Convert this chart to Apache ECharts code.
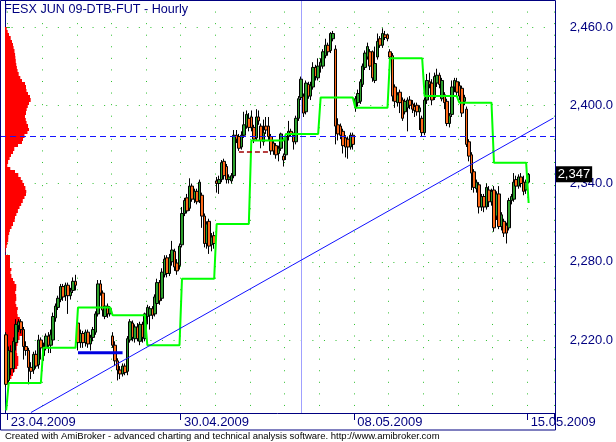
<!DOCTYPE html>
<html><head><meta charset="utf-8">
<script src="https://cdn.jsdelivr.net/npm/echarts@6/dist/echarts.min.js"></script>
<style>html,body{margin:0;padding:0;background:#fff}#c{width:616px;height:442px}</style>
</head><body><div id="c"></div>
<script>
const hours = ['08:00','09:00','10:00','11:00','12:00','13:00','14:00','15:00','16:00','17:00','18:00','19:00','20:00','21:00'];
const sessionDates = ['22.04.2009','23.04.2009','24.04.2009','27.04.2009','28.04.2009','29.04.2009','30.04.2009',
  '04.05.2009','05.05.2009','06.05.2009','07.05.2009','08.05.2009','11.05.2009','12.05.2009','13.05.2009','14.05.2009','15.05.2009'];
const labelDates = ['23.04.2009','30.04.2009','08.05.2009','15.05.2009'];

// hourly bars: [open, close, low, high]
const s0422 = [[2224,2186,2184,2226]];
const s0423 = [[2189,2212,2186,2215],[2211,2198,2193,2216],[2198,2219,2195,2222],[2218,2232,2212,2236],[2231,2234,2226,2236],[2234,2228,2225,2236],[2228,2215,2205,2230],[2215,2212,2208,2219],[2212,2199,2186,2214],[2199,2196,2190,2203],[2197,2209,2194,2211],[2209,2200,2198,2212],[2201,2220,2198,2224],[2220,2214,2205,2222]];
const s0424 = [[2208,2215,2204,2218],[2214,2223,2212,2225],[2223,2216,2210,2226],[2216,2224,2210,2228],[2220,2238,2218,2241],[2237,2246,2234,2248],[2245,2252,2243,2254],[2251,2261,2249,2263],[2261,2253,2250,2263],[2254,2262,2250,2264],[2262,2254,2240,2264],[2254,2257,2251,2260],[2258,2265,2256,2268],[2265,2262,2258,2270]];
const s0427 = [[2233,2218,2212,2236],[2218,2225,2214,2228],[2225,2218,2214,2227],[2218,2226,2215,2228],[2226,2217,2214,2228],[2217,2222,2212,2224],[2222,2228,2219,2230],[2226,2240,2224,2242],[2240,2263,2238,2266],[2263,2256,2254,2266],[2256,2243,2238,2258],[2238,2246,2236,2248],[2246,2240,2237,2248],[2240,2244,2238,2246]];
const s0428 = [[2223,2216,2214,2226],[2216,2204,2200,2219],[2204,2197,2189,2206],[2197,2194,2190,2200],[2194,2200,2192,2202],[2200,2195,2193,2202],[2196,2221,2193,2223],[2220,2234,2218,2236],[2233,2222,2219,2235],[2221,2230,2218,2232],[2230,2221,2219,2233],[2219,2232,2216,2234],[2232,2222,2218,2234],[2221,2240,2219,2241]];
const s0429 = [[2238,2245,2232,2247],[2239,2244,2228,2246],[2244,2239,2236,2246],[2240,2253,2238,2255],[2248,2264,2246,2267],[2264,2250,2247,2266],[2252,2272,2250,2275],[2270,2282,2268,2285],[2283,2271,2268,2285],[2271,2283,2269,2286],[2280,2289,2277,2296],[2288,2276,2273,2290],[2279,2273,2270,2282],[2277,2292,2274,2294]];
const s0430 = [[2293,2317,2291,2322],[2317,2327,2315,2329],[2329,2319,2317,2332],[2321,2338,2319,2344],[2338,2328,2326,2340],[2328,2334,2325,2336],[2334,2326,2324,2336],[2327,2341,2325,2343],[2331,2315,2306,2333],[2315,2294,2291,2317],[2294,2309,2290,2311],[2311,2292,2286,2313],[2293,2299,2288,2302],[2300,2294,2290,2303]];
const s0504 = [[2342,2340,2333,2345],[2340,2343,2332,2346],[2343,2356,2341,2358],[2357,2346,2343,2359],[2353,2343,2340,2355],[2343,2345,2340,2347],[2342,2346,2340,2348],[2346,2377,2344,2381],[2377,2374,2371,2381],[2376,2367,2365,2378],[2368,2377,2366,2380],[2377,2385,2375,2395],[2384,2393,2382,2396],[2390,2383,2380,2394]];
const s0505 = [[2391,2383,2380,2396],[2383,2374,2371,2385],[2375,2391,2373,2397],[2391,2388,2385,2396],[2384,2373,2367,2386],[2372,2379,2369,2389],[2384,2381,2378,2391],[2384,2376,2373,2391],[2376,2365,2362,2378],[2371,2365,2362,2373],[2369,2362,2359,2371],[2363,2367,2357,2369],[2367,2378,2365,2379],[2361,2358,2353,2363]];
const s0506 = [[2362,2376,2358,2378],[2376,2380,2373,2388],[2380,2378,2376,2382],[2377,2372,2366,2379],[2372,2390,2370,2392],[2390,2405,2388,2407],[2406,2420,2404,2422],[2407,2394,2391,2409],[2395,2417,2393,2419],[2416,2407,2405,2418],[2407,2415,2404,2418],[2414,2429,2412,2433],[2429,2422,2419,2431],[2421,2430,2419,2436]];
const s0507 = [[2430,2433,2425,2436],[2430,2441,2428,2443],[2438,2446,2436,2451],[2446,2441,2438,2448],[2442,2455,2440,2456],[2451,2455,2449,2457],[2443,2384,2370,2446],[2385,2378,2373,2390],[2384,2377,2374,2386],[2380,2369,2363,2382],[2375,2368,2360,2377],[2374,2368,2359,2376],[2368,2377,2366,2379],[2377,2370,2366,2379]];
const s0508 = [[2398,2405,2395,2407],[2402,2409,2399,2412],[2403,2418,2401,2420],[2416,2430,2414,2432],[2429,2440,2427,2442],[2437,2445,2435,2448],[2441,2430,2427,2443],[2441,2421,2418,2442],[2419,2432,2417,2445],[2437,2449,2435,2455],[2451,2446,2444,2453],[2446,2455,2444,2459],[2454,2452,2450,2457],[2454,2451,2449,2455]];
const s0511 = [[2441,2437,2435,2443],[2438,2407,2403,2440],[2414,2403,2398,2416],[2402,2408,2399,2410],[2410,2402,2394,2412],[2404,2390,2388,2406],[2395,2403,2393,2405],[2398,2404,2380,2406],[2404,2400,2397,2407],[2401,2397,2394,2404],[2399,2396,2391,2402],[2400,2395,2392,2402],[2395,2398,2381,2400],[2390,2379,2376,2392]];
const s0512 = [[2379,2404,2377,2406],[2404,2419,2401,2424],[2418,2416,2413,2425],[2417,2404,2400,2420],[2406,2422,2404,2425],[2417,2423,2414,2428],[2423,2416,2413,2425],[2405,2419,2403,2421],[2408,2402,2397,2410],[2403,2386,2384,2405],[2386,2392,2383,2394],[2393,2414,2391,2419],[2414,2419,2410,2421],[2418,2410,2407,2421]];
const s0513 = [[2415,2407,2404,2418],[2413,2394,2391,2415],[2403,2406,2400,2408],[2397,2370,2368,2399],[2372,2361,2357,2374],[2362,2348,2335,2364],[2349,2337,2333,2351],[2336,2341,2333,2343],[2339,2322,2317,2341],[2322,2330,2319,2332],[2330,2322,2318,2332],[2322,2337,2320,2340],[2335,2326,2322,2338],[2326,2334,2323,2336]];
const s0514 = [[2335,2306,2303,2338],[2315,2332,2312,2334],[2332,2307,2305,2338],[2307,2316,2304,2318],[2311,2302,2299,2313],[2308,2302,2294,2310],[2306,2327,2304,2329],[2327,2330,2324,2332],[2328,2341,2326,2348],[2343,2338,2335,2346],[2338,2345,2336,2347],[2345,2340,2337,2348],[2341,2334,2331,2346],[2335,2341,2332,2343]];
const s0515 = [[2341,2347,2340,2348]];

// daily step indicator level per session
const stepLevels = [2166,2187,2214,2245,2239,2216,2267,2309,2373,2378,2406,2398,2436,2407,2402,2356,2325];

const yTicks = [2220,2280,2340,2400,2460];
const referenceLevel = 2376.4;
const selectedBar = '06.05.2009 14:00';
const trendFrom = ['23.04.2009 17:00', 2164.4];
const trendTo = ['15.05.2009 18:00', 2390.2];
const supportSeg = [['27.04.2009 08:00', 2210.3], ['28.04.2009 12:00', 2210.3]];
const resistSeg = [['04.05.2009 17:00', 2364.2], ['05.05.2009 15:00', 2364.2]];

// volume-at-price profile, bins from the top price downwards
const profileTop = 2459, profileStep = 2.5;
const profileVolume = [170,270,400,570,700,800,860,950,1010,1040,1080,1130,1190,1260,1370,1530,1700,2000,2100,2150,
  2300,2500,2570,2400,2280,2170,2100,2000,2080,2160,2300,2400,2250,1950,1800,1700,1300,930,800,600,
  460,310,230,530,1000,1330,1580,1750,1900,2040,2130,2100,1950,1780,1620,1450,1290,1140,1000,970,
  800,650,490,420,330,320,230,170,70,30,500,500,500,500,640,550,640,800,960,1130,
  1120,1030,1120,1130,1050,1130,1280,1220,1270,1480,1500,1500,1580,1750,1750,1460,1330,1250,1170,1170,
  1220,1330,1330,1330,1220,970,800,640,300];

const sessions = [s0422,s0423,s0424,s0427,s0428,s0429,s0430,s0504,s0505,s0506,s0507,s0508,s0511,s0512,s0513,s0514,s0515];
const categories = [], candles = [], stepLine = [];
sessions.forEach((bars, si) => {
  let slots = hours;
  if (si === 0) slots = hours.slice(11);
  if (si === sessions.length - 1) slots = hours.slice(0, 11);
  const offset = si === 0 ? slots.length - bars.length : 0;
  slots.forEach((h, j) => {
    categories.push(sessionDates[si] + ' ' + h);
    const b = bars[j - offset];
    if (b) { candles.push(b); stepLine.push(stepLevels[si]); }
    else { candles.push(['-','-','-','-']); stepLine.push('-'); }
  });
});
const lastClose = s0515[s0515.length - 1][1];
const profileData = profileVolume.map((v, k) => [v, profileTop - k * profileStep]);

const FONT = "'Liberation Sans',Arial,sans-serif";
const NAVY = '#000080';
const GRIDGREEN = '#2dbf2d';
const DOT = [1, 10.57];
const YMIN = 2164.03, YMAX = 2480.7;
const isLabelDay = (v) => v.endsWith('08:00') && labelDates.includes(v.slice(0, 10));

const chart = echarts.init(document.getElementById('c'), null, {renderer: 'canvas'});
chart.setOption({
  animation: false,
  backgroundColor: '#fff',
  title: {text: 'FESX JUN 09-DTB-FUT - Hourly', left: 4, top: 3, padding: 0,
    textStyle: {color: NAVY, fontSize: 12.6, fontWeight: 'normal', fontFamily: FONT}},
  grid: {left: 0, top: 0, right: 61, bottom: 29, containLabel: false},
  xAxis: [{
    type: 'category', data: categories, boundaryGap: true, position: 'bottom',
    axisLine: {show: true, lineStyle: {color: NAVY, width: 1}},
    axisTick: {show: true, length: 7, interval: (i, v) => isLabelDay(v), lineStyle: {color: NAVY}},
    axisLabel: {show: true, interval: (i, v) => isLabelDay(v), formatter: (v) => v.slice(0, 10),
      align: 'left', margin: 3, padding: [0, 0, 0, 2], color: NAVY, fontSize: 13, fontFamily: FONT},
    splitLine: {show: true, interval: (i, v) => v.endsWith('08:00'), lineStyle: {color: GRIDGREEN, type: DOT, width: 1}}
  }, {
    type: 'value', min: -500, max: 55000, show: false
  }],
  yAxis: [{
    type: 'value', position: 'right', min: YMIN, max: YMAX,
    axisLine: {show: true, lineStyle: {color: NAVY}},
    axisTick: {show: true, customValues: yTicks, length: 5, lineStyle: {color: GRIDGREEN}},
    axisLabel: {show: true, customValues: yTicks, margin: 15, color: NAVY, fontSize: 13, fontFamily: FONT,
      formatter: (v) => v.toLocaleString('en-US', {minimumFractionDigits: 1, maximumFractionDigits: 1})},
    splitLine: {show: false}
  }, {
    type: 'value', position: 'right', min: YMIN, max: YMAX,
    axisLine: {show: false}, axisTick: {show: false}, splitLine: {show: false},
    axisLabel: {show: true, customValues: [lastClose], margin: 1, color: '#fff', backgroundColor: '#000',
      padding: [2, 2, 1, 2], fontSize: 13, fontFamily: FONT, formatter: (v) => v.toLocaleString('en-US')}
  }],
  series: [{
    type: 'custom', name: 'profile', xAxisIndex: 1, yAxisIndex: 0, z: 1, silent: true,
    data: profileData, encode: {x: 0, y: 1},
    renderItem: (params, api) => {
      const vol = api.value(0), price = api.value(1);
      const a = api.coord([0, price + profileStep / 2]);
      const b = api.coord([vol, price - profileStep / 2]);
      const y0 = Math.round(a[1]), y1 = Math.round(b[1]);
      return {type: 'rect', shape: {x: a[0], y: y0, width: b[0] - a[0], height: y1 - y0}, style: {fill: '#ff0000'}};
    },
    markLine: {silent: true, symbol: 'none', z: 0, animation: false, label: {show: false},
      lineStyle: {color: GRIDGREEN, type: DOT, width: 1},
      data: yTicks.map(v => ({yAxis: v}))}
  }, {
    type: 'candlestick', name: 'FESX', xAxisIndex: 0, yAxisIndex: 0, z: 3, silent: true,
    data: candles, barWidth: 3,
    itemStyle: {color: '#2ca02c', color0: '#ff6a1a', borderColor: '#000', borderColor0: '#000', borderWidth: 1},
    markLine: {silent: true, symbol: 'none', z: 2, animation: false, label: {show: false},
      lineStyle: {color: '#a0a0ff', type: 'solid', width: 1},
      data: [{xAxis: selectedBar}]}
  }, {
    type: 'line', name: 'step', data: stepLine, z: 4, silent: true, symbol: 'none',
    lineStyle: {color: '#00ff00', width: 2},
    markLine: {silent: true, symbol: 'none', z: 5, animation: false, label: {show: false},
      data: [{yAxis: referenceLevel, lineStyle: {color: '#1414ff', type: [6, 4], width: 1}}]}
  }, {
    type: 'line', name: 'trend', data: [trendFrom, trendTo], z: 4, silent: true, symbol: 'none',
    lineStyle: {color: '#1010ff', width: 1}
  }, {
    type: 'line', name: 'support', data: supportSeg, z: 4, silent: true, symbol: 'none',
    lineStyle: {color: '#0000e0', width: 3}
  }, {
    type: 'line', name: 'resist', data: resistSeg, z: 4, silent: true, symbol: 'none',
    lineStyle: {color: '#a00000', width: 1.5, type: [5, 3]}
  }],
  graphic: [
    {type: 'rect', silent: true, z: 100, shape: {x: 0.5, y: 0.5, width: 555, height: 429.5},
      style: {fill: null, stroke: NAVY, lineWidth: 1}},
    {type: 'text', silent: true, left: 5, top: 431,
      style: {text: 'Created with AmiBroker - advanced charting and technical analysis software. http://www.amibroker.com',
        fill: '#000', font: "9.5px 'Liberation Sans', Arial, sans-serif"}}
  ]
});
</script></body></html>
